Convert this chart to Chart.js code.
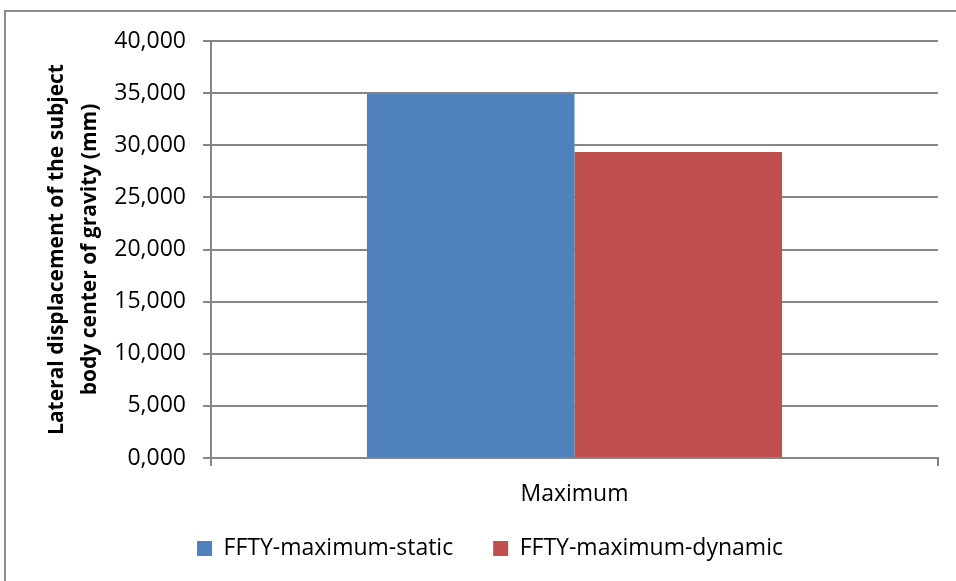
<!DOCTYPE html>
<html>
<head>
<meta charset="utf-8">
<script src="https://cdn.jsdelivr.net/npm/chart.js@4/dist/chart.umd.min.js"></script>
<style>
  html, body { margin: 0; padding: 0; background: #fff; overflow: hidden; }
  #frame { position: absolute; left: 4px; top: 10px; width: 1000px; height: 1000px; border: 2px solid #8c8c8c; box-sizing: border-box; }
  #wrap { position: absolute; left: 0; top: 0; width: 956px; height: 581px; }
</style>
</head>
<body>
<div id="frame"></div>
<div id="wrap"><canvas id="myChart" width="956" height="581"></canvas></div>
<script>
const categories = ['Maximum'];
const seriesNames = ['FFTY-maximum-static', 'FFTY-maximum-dynamic'];
const staticValues = [34.95];
const dynamicValues = [29.35];
const seriesColors = ['#4F81BD', '#C0504D'];
const yTitle = ['Lateral displacement of the subject', 'body center of gravity (mm)'];

const gridColor = '#868686';
const font = { family: "'Open Sans'", size: 23 };

const data = {
    labels: categories,
    datasets: [{
        label: seriesNames[0],
        data: staticValues,
        backgroundColor: seriesColors[0],
    }, {
        label: seriesNames[1],
        data: dynamicValues,
        backgroundColor: seriesColors[1],
    }]
};

const config = {
    type: 'bar',
    data: data,
    options: {
        responsive: false,
        animation: false,
        layout: {
            padding: { top: 41, right: 18, left: 42, bottom: 11 }
        },
        plugins: {
            legend: {
                position: 'bottom',
                labels: {
                    color: '#000',
                    font: font,
                    boxWidth: 15,
                    boxHeight: 15,
                    padding: 40,
                }
            },
            tooltip: { enabled: false }
        },
        datasets: {
            bar: { barPercentage: 1, categoryPercentage: 0.571 }
        },
        scales: {
            x: {
                offset: true,
                grid: {
                    offset: true,
                    drawOnChartArea: false,
                    drawTicks: true,
                    tickLength: 8,
                    color: gridColor,
                    lineWidth: 2,
                },
                border: { color: gridColor, width: 2 },
                ticks: { color: '#000', font: font, padding: 15 },
                afterFit: function(scale) {
                    scale.height = 39;
                    // don't clip the category label to the (short) axis box
                    scale._computeLabelArea = function() { return undefined; };
                }
            },
            y: {
                min: 0,
                max: 40,
                grid: {
                    color: gridColor,
                    lineWidth: 2,
                    tickLength: 8,
                },
                border: { color: gridColor, width: 2 },
                ticks: {
                    stepSize: 5,
                    color: '#000',
                    font: font,
                    padding: 17,
                    callback: function(v) { return v.toFixed(3).replace('.', ','); }
                },
                title: {
                    display: true,
                    text: yTitle,
                    color: '#000',
                    font: { family: "'Open Sans'", size: 21, weight: 'bold', lineHeight: 1.6 },
                    padding: { top: -2, bottom: 0 }
                },
                afterFit: function(scale) { scale.width = 169; }
            }
        }
    },
};

var myChart = new Chart(
    document.getElementById('myChart'),
    config
);
</script>
</body>
</html>
